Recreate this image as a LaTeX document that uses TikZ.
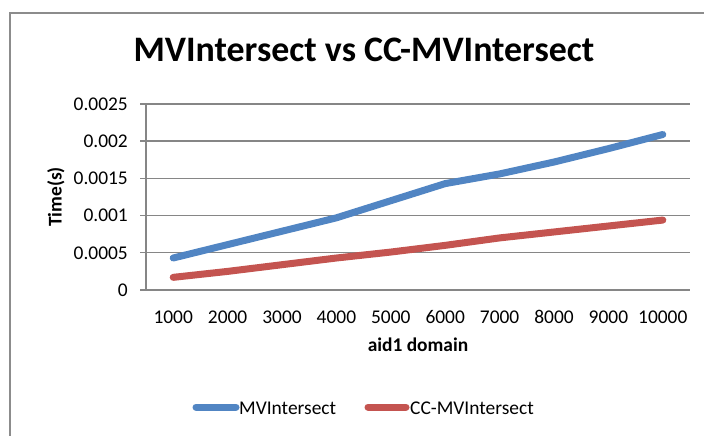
\documentclass[tikz,border=0pt]{standalone}
\usepackage{fontspec}
\setmainfont{Carlito}
\definecolor{gridgray}{RGB}{134,134,134}
\definecolor{framegray}{RGB}{140,140,140}
\definecolor{seriesblue}{RGB}{81,133,195}
\definecolor{seriesred}{RGB}{196,84,80}
\tikzset{
  gridline/.style={draw=gridgray, line width=1.4bp},
  ticklabel/.style={font=\fontsize{19.5}{22}\selectfont, inner sep=0pt},
  axistitle/.style={font=\fontsize{19.5}{22}\selectfont\bfseries, inner sep=0pt},
  serie/.style={line width=7bp, line cap=round, line join=round},
  legendtext/.style={font=\fontsize{19.5}{22}\selectfont, inner sep=0pt, anchor=base west},
}
\begin{document}
\begin{tikzpicture}[x=1bp, y=-1bp]
  \useasboundingbox (0,0) rectangle (704,436);
  % chart frame (runs past the page edge on the right and bottom)
  \draw[framegray, line width=1.6bp] (10,460) -- (10,13) -- (730,13);

  % title
  \node[font=\fontsize{36}{40}\selectfont\bfseries, inner sep=0pt, anchor=base] (title) at (364,62) {MVIntersect vs CC-MVIntersect};

  % horizontal grid lines, value axis ticks and labels
  \foreach \k/\lab in {0/0, 1/0.0005, 2/0.001, 3/0.0015, 4/0.002, 5/0.0025} {
    \pgfmathsetmacro{\yy}{290-\k*37.2}
    \draw[gridline] (140,\yy) -- (690,\yy);
    \node[ticklabel, anchor=east] (ylab\k) at (128,\yy) {\lab};
  }
  % value axis line
  \draw[gridline] (146,104) -- (146,290);

  % category labels
  \foreach \i/\lab in {0/1000, 1/2000, 2/3000, 3/4000, 4/5000, 5/6000, 6/7000, 7/8000, 8/9000, 9/10000} {
    \node[ticklabel, anchor=base] (xlab\i) at (173.2+\i*54.4,323.5) {\lab};
  }

  % axis titles
  \node[axistitle, anchor=base] (xtitle) at (418,352) {aid1 domain};
  \node[axistitle, rotate=90] (ytitle) at (56,197) {Time(s)};

  % data series (values in units of 0.0001 s; 7.44 px per unit)
  \draw[serie, seriesblue]
    plot coordinates {
      (173.2,{290-4.3*7.44}) (227.6,{290-6.1*7.44}) (282.0,{290-7.9*7.44})
      (336.4,{290-9.7*7.44}) (390.8,{290-12.0*7.44}) (445.2,{290-14.3*7.44})
      (499.6,{290-15.6*7.44}) (554.0,{290-17.2*7.44}) (608.4,{290-19.0*7.44})
      (662.8,{290-20.9*7.44}) };
  \draw[serie, seriesred]
    plot coordinates {
      (173.2,{290-1.7*7.44}) (227.6,{290-2.5*7.44}) (282.0,{290-3.4*7.44})
      (336.4,{290-4.3*7.44}) (390.8,{290-5.1*7.44}) (445.2,{290-6.0*7.44})
      (499.6,{290-7.0*7.44}) (554.0,{290-7.8*7.44}) (608.4,{290-8.6*7.44})
      (662.8,{290-9.4*7.44}) };

  % legend
  \coordinate (lb1) at (196,407);
  \coordinate (lb2) at (236,407);
  \draw[serie, seriesblue] (lb1) -- (lb2);
  \node[legendtext] (leg1) at (239,414) {MVIntersect};
  \coordinate (lr1) at (368,407);
  \coordinate (lr2) at (406,407);
  \draw[serie, seriesred] (lr1) -- (lr2);
  \node[legendtext] (leg2) at (410,414) {CC-MVIntersect};
\end{tikzpicture}
\end{document}
